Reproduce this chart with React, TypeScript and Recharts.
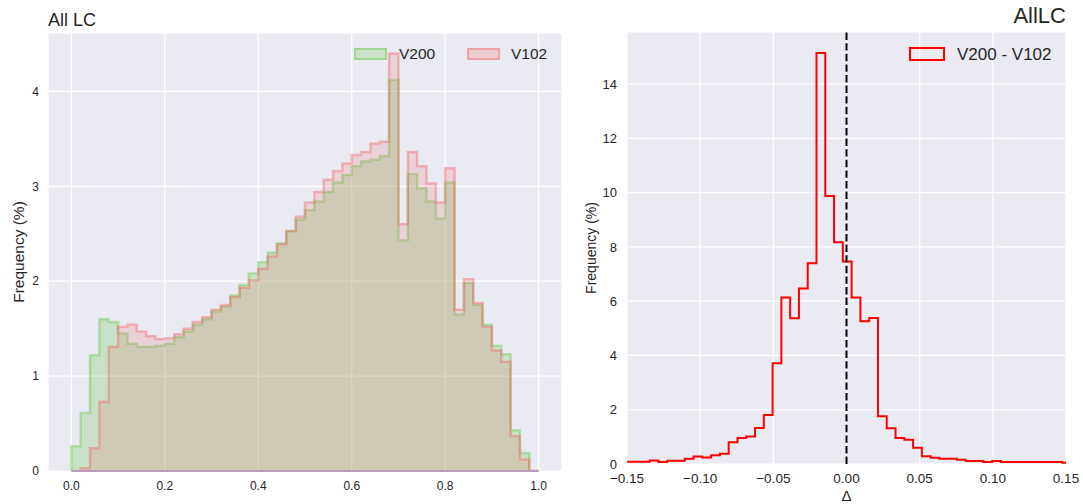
import { ComposedChart, Area, Line, XAxis, YAxis, CartesianGrid, ReferenceLine } from 'recharts';

// ---- left panel: V200 vs V102 histograms (50 bins over [0, 1]) ----
const leftEdges = [
    0, 0.02, 0.04, 0.06, 0.08, 0.1, 0.12, 0.14, 0.16, 0.18,
    0.2, 0.22, 0.24, 0.26, 0.28, 0.3, 0.32, 0.34, 0.36, 0.38,
    0.4, 0.42, 0.44, 0.46, 0.48, 0.5, 0.52, 0.54, 0.56, 0.58,
    0.6, 0.62, 0.64, 0.66, 0.68, 0.7, 0.72, 0.74, 0.76, 0.78,
    0.8, 0.82, 0.84, 0.86, 0.88, 0.9, 0.92, 0.94, 0.96, 0.98, 1.0
];

const v200 = [
    0.26, 0.61, 1.22, 1.60, 1.57, 1.45, 1.34, 1.31, 1.31, 1.32,
    1.34, 1.41, 1.47, 1.54, 1.60, 1.68, 1.73, 1.85, 1.96, 2.08,
    2.20, 2.30, 2.40, 2.53, 2.65, 2.75, 2.84, 2.94, 3.04, 3.12,
    3.21, 3.26, 3.28, 3.32, 4.12, 2.43, 3.13, 2.98, 2.84, 2.66,
    3.04, 1.65, 1.98, 1.75, 1.54, 1.32, 1.23, 0.43, 0.19, 0
];

const v102 = [
    0, 0.03, 0.24, 0.73, 1.31, 1.52, 1.54, 1.47, 1.42, 1.39,
    1.40, 1.44, 1.50, 1.57, 1.62, 1.70, 1.75, 1.83, 1.93, 2.01,
    2.13, 2.26, 2.39, 2.53, 2.68, 2.83, 2.94, 3.07, 3.16, 3.24,
    3.33, 3.36, 3.45, 3.47, 4.40, 2.60, 3.36, 3.21, 3.03, 2.83,
    3.19, 1.70, 2.02, 1.77, 1.52, 1.27, 1.15, 0.37, 0.12, 0
];

const leftXTicks = [0, 0.2, 0.4, 0.6, 0.8, 1.0];
const leftYTicks = [0, 1, 2, 3, 4];

// ---- right panel: V200 - V102 difference histogram ----
const rightEdges = [
    -0.1525, -0.1465, -0.1405, -0.1345, -0.1285, -0.1225, -0.1165, -0.1105, -0.1045, -0.0985,
    -0.0925, -0.0865, -0.0805, -0.0745, -0.0685, -0.0625, -0.0565, -0.0505, -0.0445, -0.0385,
    -0.0325, -0.0265, -0.0205, -0.0145, -0.0085, -0.0025, 0.0035, 0.0095, 0.0155, 0.0215,
    0.0275, 0.0335, 0.0395, 0.0455, 0.0515, 0.0575, 0.0635, 0.0695, 0.0755, 0.0815,
    0.0875, 0.0935, 0.0995, 0.1055, 0.1115, 0.1175, 0.1235, 0.1295, 0.1355, 0.1415,
    0.1475, 0.1535
];

const delta = [
    0.08, 0.08, 0.08, 0.13, 0.07, 0.12, 0.12, 0.19, 0.28, 0.24,
    0.32, 0.38, 0.80, 0.96, 1.01, 1.33, 1.81, 3.71, 6.14, 5.37,
    6.47, 7.40, 15.15, 9.88, 8.17, 7.46, 6.14, 5.26, 5.38, 1.76,
    1.32, 0.96, 0.89, 0.60, 0.29, 0.23, 0.19, 0.19, 0.16, 0.11,
    0.11, 0.07, 0.11, 0.07, 0.07, 0.07, 0.07, 0.07, 0.07, 0.07,
    0.05
];

const rightXTicks = [-0.15, -0.1, -0.05, 0, 0.05, 0.1, 0.15];
const rightYTicks = [0, 2, 4, 6, 8, 10, 12, 14];

const GREEN = '#64c846';
const RED = '#f06464';
const BG = '#EAEAF2';
const TEXT = '#262626';

// step histograms: start at the baseline, one point per bin edge, drop back at the end
const leftData = [
    { x: leftEdges[0], v200: 0, v102: 0 },
    ...v200.map((v, i) => ({ x: leftEdges[i], v200: v, v102: v102[i] })),
    { x: leftEdges[leftEdges.length - 1], v200: 0, v102: 0 }
];

const rightData = [
    { x: rightEdges[0], d: 0 },
    ...delta.map((v, i) => ({ x: rightEdges[i], d: v })),
    { x: rightEdges[rightEdges.length - 1], d: 0 }
];

const fmtMinus = (v: number) => (v < 0 ? '\u2212' + Math.abs(v).toFixed(2) : v.toFixed(2));

// positioned text by baseline (line-height 1)
const Txt = ({ x, base, size, children, right }: { x: number; base: number; size: number; children: any; right?: boolean }) => (
    <div style={{
        position: 'absolute',
        top: base - 0.8465 * size,
        ...(right ? { right: 1083 - x } : { left: x }),
        fontSize: size,
        lineHeight: 1,
        color: TEXT,
        whiteSpace: 'nowrap'
    }}>
        {children}
    </div>
);

const Patch = ({ x, y, w, h, color, filled, fillAlpha = '40' }: { x: number; y: number; w: number; h: number; color: string; filled: boolean; fillAlpha?: string }) => (
    <div style={{
        position: 'absolute',
        left: x,
        top: y,
        width: w,
        height: h,
        boxSizing: 'border-box',
        background: filled ? color + fillAlpha : 'transparent',
        border: filled ? `2px solid ${color}66` : `2px solid ${color}`
    }} />
);

export default function App() {
    return (
        <div style={{
            position: 'fixed',
            left: 0,
            top: 0,
            width: 1083,
            height: 504,
            overflow: 'hidden',
            background: '#fff',
            fontFamily: '"Liberation Sans", Arial, sans-serif'
        }}>
            {/* left panel */}
            <div style={{ position: 'absolute', left: 0, top: 0 }}>
                <ComposedChart width={570} height={504} data={leftData} margin={{ top: 33, right: 8, bottom: 0, left: 0 }}>
                    <CartesianGrid fill={BG} stroke="#fff" strokeWidth={1.2} />
                    <XAxis
                        type="number"
                        dataKey="x"
                        domain={[-0.05, 1.05]}
                        ticks={leftXTicks}
                        allowDataOverflow
                        height={33}
                        axisLine={false}
                        tickLine={false}
                        tickSize={0}
                        tickMargin={10}
                        tickFormatter={(v: number) => v.toFixed(1)}
                        tick={{ fill: TEXT, fontSize: 12 }}
                    />
                    <YAxis
                        type="number"
                        domain={[0, 4.615]}
                        ticks={leftYTicks}
                        allowDataOverflow
                        width={48}
                        axisLine={false}
                        tickLine={false}
                        tickSize={0}
                        tickMargin={9}
                        tick={{ fill: TEXT, fontSize: 12 }}
                        label={{
                            value: 'Frequency (%)',
                            angle: -90,
                            position: 'insideLeft',
                            offset: 18,
                            style: { textAnchor: 'middle', fill: TEXT, fontSize: 15.5 }
                        }}
                    />
                    <Area
                        type="stepAfter"
                        dataKey="v200"
                        fill={GREEN}
                        fillOpacity={0.25}
                        stroke={GREEN}
                        strokeOpacity={0.4}
                        strokeWidth={2.5}
                        dot={false}
                        activeDot={false}
                        isAnimationActive={false}
                    />
                    <Area
                        type="stepAfter"
                        dataKey="v102"
                        fill={RED}
                        fillOpacity={0.18}
                        stroke={RED}
                        strokeOpacity={0.4}
                        strokeWidth={2.5}
                        dot={false}
                        activeDot={false}
                        isAnimationActive={false}
                    />
                    <ReferenceLine segment={[{ x: 0, y: 0 }, { x: 1, y: 0 }]} stroke="#b99ab8" strokeWidth={2} />
                </ComposedChart>
            </div>

            {/* right panel */}
            <div style={{ position: 'absolute', left: 575, top: 0 }}>
                <ComposedChart width={508} height={504} data={rightData} margin={{ top: 32, right: 17, bottom: 0, left: 0 }}>
                    <CartesianGrid fill={BG} stroke="#fff" strokeWidth={1.2} />
                    <XAxis
                        type="number"
                        dataKey="x"
                        domain={[-0.15, 0.15]}
                        ticks={rightXTicks}
                        allowDataOverflow
                        height={40}
                        axisLine={false}
                        tickLine={false}
                        tickSize={0}
                        tickMargin={9}
                        tickFormatter={fmtMinus}
                        tick={{ fill: TEXT, fontSize: 13.5 }}
                        label={{ value: 'Δ', position: 'insideBottom', offset: 3.5, style: { fill: TEXT, fontSize: 15 } }}
                    />
                    <YAxis
                        type="number"
                        domain={[0, 15.92]}
                        ticks={rightYTicks}
                        allowDataOverflow
                        width={52}
                        axisLine={false}
                        tickLine={false}
                        tickSize={0}
                        tickMargin={10}
                        tick={{ fill: TEXT, fontSize: 13 }}
                        label={{
                            value: 'Frequency (%)',
                            angle: -90,
                            position: 'insideLeft',
                            offset: 16.5,
                            style: { textAnchor: 'middle', fill: TEXT, fontSize: 14 }
                        }}
                    />
                    <Line
                        type="stepAfter"
                        dataKey="d"
                        stroke="#ff0000"
                        strokeWidth={2}
                        dot={false}
                        activeDot={false}
                        isAnimationActive={false}
                    />
                    <ReferenceLine x={0} stroke="#000" strokeWidth={2} strokeDasharray="7.4 3.2" />
                </ComposedChart>
            </div>

            {/* titles */}
            <Txt x={48} base={26} size={18}>All LC</Txt>
            <Txt x={1066} base={24} size={22} right>AllLC</Txt>

            {/* legends */}
            <Patch x={354} y={48} w={33} h={12} color={GREEN} filled />
            <Txt x={399} base={59} size={15.5}>V200</Txt>
            <Patch x={467} y={48} w={33} h={12} color={RED} filled fillAlpha="38" />
            <Txt x={511} base={59} size={15.5}>V102</Txt>

            <Patch x={909} y={47} w={36} h={14} color="#ff0000" filled={false} />
            <Txt x={957} base={60.5} size={17}>V200 - V102</Txt>
        </div>
    );
}
